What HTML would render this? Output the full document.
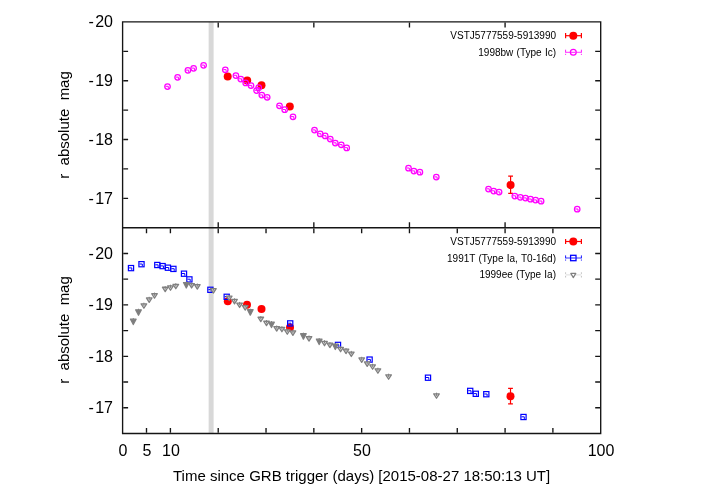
<!DOCTYPE html>
<html><head><meta charset="utf-8"><title>chart</title><style>
html,body{margin:0;padding:0;background:#fff}
#c{position:relative;width:702px;height:496px;overflow:hidden;background:#fff;font-family:"Liberation Sans",sans-serif;color:#000}
.t{position:absolute;white-space:nowrap;line-height:1;will-change:transform}
.yl{font-size:16px;text-align:right;width:60px}
.xl{font-size:16px;text-align:center;width:60px}
.lg{font-size:10px;text-align:right;width:200px;word-spacing:.5px}
.ax{font-size:15px;word-spacing:4.2px}
</style></head><body><div id="c"><svg width="702" height="496" viewBox="0 0 702 496" style="position:absolute;left:0;top:0">
<rect width="702" height="496" fill="#fff"/>
<rect x="208.65" y="21.9" width="4.95" height="411.6" fill="#d8d8d8"/>
<g id="top">
<circle cx="227.7" cy="76.4" r="4" fill="#f00"/>
<circle cx="247.2" cy="80.4" r="4" fill="#f00"/>
<circle cx="261.5" cy="85.3" r="4" fill="#f00"/>
<circle cx="289.8" cy="106.5" r="4" fill="#f00"/>
<path d="M510.6 176.1V193.4M508.2 176.1h4.8M508.2 193.4h4.8" stroke="#f00" stroke-width="1.2" fill="none"/>
<circle cx="510.6" cy="185.1" r="4" fill="#f00"/>
<circle cx="167.5" cy="86.5" r="2.75" fill="none" stroke="#f0f" stroke-width="1.25"/>
<path d="M165.5 86.3H168.3V88.5" stroke="#f0f" stroke-width="1.00" fill="none"/>
<circle cx="177.6" cy="77.3" r="2.75" fill="none" stroke="#f0f" stroke-width="1.25"/>
<path d="M175.6 77.1H178.4V79.3" stroke="#f0f" stroke-width="1.00" fill="none"/>
<circle cx="187.9" cy="70.3" r="2.75" fill="none" stroke="#f0f" stroke-width="1.25"/>
<path d="M185.9 70.1H188.7V72.3" stroke="#f0f" stroke-width="1.00" fill="none"/>
<circle cx="193.6" cy="68.3" r="2.75" fill="none" stroke="#f0f" stroke-width="1.25"/>
<path d="M191.6 68.1H194.4V70.3" stroke="#f0f" stroke-width="1.00" fill="none"/>
<circle cx="203.6" cy="65.3" r="2.75" fill="none" stroke="#f0f" stroke-width="1.25"/>
<path d="M201.6 65.1H204.4V67.3" stroke="#f0f" stroke-width="1.00" fill="none"/>
<circle cx="225.3" cy="69.8" r="2.75" fill="none" stroke="#f0f" stroke-width="1.25"/>
<path d="M223.3 69.6H226.1V71.8" stroke="#f0f" stroke-width="1.00" fill="none"/>
<circle cx="235.9" cy="75.5" r="2.75" fill="none" stroke="#f0f" stroke-width="1.25"/>
<path d="M233.9 75.3H236.7V77.5" stroke="#f0f" stroke-width="1.00" fill="none"/>
<circle cx="240.8" cy="79.0" r="2.75" fill="none" stroke="#f0f" stroke-width="1.25"/>
<path d="M238.8 78.8H241.6V81.0" stroke="#f0f" stroke-width="1.00" fill="none"/>
<circle cx="245.7" cy="82.9" r="2.75" fill="none" stroke="#f0f" stroke-width="1.25"/>
<path d="M243.7 82.7H246.5V84.9" stroke="#f0f" stroke-width="1.00" fill="none"/>
<circle cx="251.0" cy="85.6" r="2.75" fill="none" stroke="#f0f" stroke-width="1.25"/>
<path d="M249.0 85.4H251.8V87.6" stroke="#f0f" stroke-width="1.00" fill="none"/>
<circle cx="256.6" cy="90.5" r="2.75" fill="none" stroke="#f0f" stroke-width="1.25"/>
<path d="M254.6 90.3H257.4V92.5" stroke="#f0f" stroke-width="1.00" fill="none"/>
<circle cx="258.7" cy="87.7" r="2.75" fill="none" stroke="#f0f" stroke-width="1.25"/>
<path d="M256.7 87.5H259.5V89.7" stroke="#f0f" stroke-width="1.00" fill="none"/>
<circle cx="261.8" cy="95.1" r="2.75" fill="none" stroke="#f0f" stroke-width="1.25"/>
<path d="M259.8 94.9H262.6V97.1" stroke="#f0f" stroke-width="1.00" fill="none"/>
<circle cx="267.2" cy="97.3" r="2.75" fill="none" stroke="#f0f" stroke-width="1.25"/>
<path d="M265.2 97.1H268.0V99.3" stroke="#f0f" stroke-width="1.00" fill="none"/>
<circle cx="279.5" cy="105.8" r="2.75" fill="none" stroke="#f0f" stroke-width="1.25"/>
<path d="M277.5 105.6H280.3V107.8" stroke="#f0f" stroke-width="1.00" fill="none"/>
<circle cx="284.7" cy="109.7" r="2.75" fill="none" stroke="#f0f" stroke-width="1.25"/>
<path d="M282.7 109.5H285.5V111.7" stroke="#f0f" stroke-width="1.00" fill="none"/>
<circle cx="293.0" cy="116.8" r="2.75" fill="none" stroke="#f0f" stroke-width="1.25"/>
<path d="M291.0 116.6H293.8V118.8" stroke="#f0f" stroke-width="1.00" fill="none"/>
<circle cx="314.5" cy="130.1" r="2.75" fill="none" stroke="#f0f" stroke-width="1.25"/>
<path d="M312.5 129.9H315.3V132.1" stroke="#f0f" stroke-width="1.00" fill="none"/>
<circle cx="320.2" cy="133.9" r="2.75" fill="none" stroke="#f0f" stroke-width="1.25"/>
<path d="M318.2 133.7H321.0V135.9" stroke="#f0f" stroke-width="1.00" fill="none"/>
<circle cx="325.2" cy="135.9" r="2.75" fill="none" stroke="#f0f" stroke-width="1.25"/>
<path d="M323.2 135.7H326.0V137.9" stroke="#f0f" stroke-width="1.00" fill="none"/>
<circle cx="330.3" cy="139.1" r="2.75" fill="none" stroke="#f0f" stroke-width="1.25"/>
<path d="M328.3 138.9H331.1V141.1" stroke="#f0f" stroke-width="1.00" fill="none"/>
<circle cx="335.3" cy="143.0" r="2.75" fill="none" stroke="#f0f" stroke-width="1.25"/>
<path d="M333.3 142.8H336.1V145.0" stroke="#f0f" stroke-width="1.00" fill="none"/>
<circle cx="341.3" cy="144.8" r="2.75" fill="none" stroke="#f0f" stroke-width="1.25"/>
<path d="M339.3 144.6H342.1V146.8" stroke="#f0f" stroke-width="1.00" fill="none"/>
<circle cx="346.7" cy="147.9" r="2.75" fill="none" stroke="#f0f" stroke-width="1.25"/>
<path d="M344.7 147.7H347.5V149.9" stroke="#f0f" stroke-width="1.00" fill="none"/>
<circle cx="408.5" cy="168.2" r="2.75" fill="none" stroke="#f0f" stroke-width="1.25"/>
<path d="M406.5 168.0H409.3V170.2" stroke="#f0f" stroke-width="1.00" fill="none"/>
<circle cx="413.9" cy="171.1" r="2.75" fill="none" stroke="#f0f" stroke-width="1.25"/>
<path d="M411.9 170.9H414.7V173.1" stroke="#f0f" stroke-width="1.00" fill="none"/>
<circle cx="419.9" cy="172.2" r="2.75" fill="none" stroke="#f0f" stroke-width="1.25"/>
<path d="M417.9 172.0H420.7V174.2" stroke="#f0f" stroke-width="1.00" fill="none"/>
<circle cx="436.3" cy="177.1" r="2.75" fill="none" stroke="#f0f" stroke-width="1.25"/>
<path d="M434.3 176.9H437.1V179.1" stroke="#f0f" stroke-width="1.00" fill="none"/>
<circle cx="488.5" cy="189.0" r="2.75" fill="none" stroke="#f0f" stroke-width="1.25"/>
<path d="M486.5 188.8H489.3V191.0" stroke="#f0f" stroke-width="1.00" fill="none"/>
<circle cx="493.7" cy="191.0" r="2.75" fill="none" stroke="#f0f" stroke-width="1.25"/>
<path d="M491.7 190.8H494.5V193.0" stroke="#f0f" stroke-width="1.00" fill="none"/>
<circle cx="499.1" cy="192.1" r="2.75" fill="none" stroke="#f0f" stroke-width="1.25"/>
<path d="M497.1 191.9H499.9V194.1" stroke="#f0f" stroke-width="1.00" fill="none"/>
<circle cx="514.8" cy="196.0" r="2.75" fill="none" stroke="#f0f" stroke-width="1.25"/>
<path d="M512.8 195.8H515.6V198.0" stroke="#f0f" stroke-width="1.00" fill="none"/>
<circle cx="520.3" cy="197.3" r="2.75" fill="none" stroke="#f0f" stroke-width="1.25"/>
<path d="M518.3 197.1H521.1V199.3" stroke="#f0f" stroke-width="1.00" fill="none"/>
<circle cx="525.5" cy="198.1" r="2.75" fill="none" stroke="#f0f" stroke-width="1.25"/>
<path d="M523.5 197.9H526.3V200.1" stroke="#f0f" stroke-width="1.00" fill="none"/>
<circle cx="530.5" cy="199.2" r="2.75" fill="none" stroke="#f0f" stroke-width="1.25"/>
<path d="M528.5 199.0H531.3V201.2" stroke="#f0f" stroke-width="1.00" fill="none"/>
<circle cx="535.6" cy="200.1" r="2.75" fill="none" stroke="#f0f" stroke-width="1.25"/>
<path d="M533.6 199.9H536.4V202.1" stroke="#f0f" stroke-width="1.00" fill="none"/>
<circle cx="541.1" cy="201.2" r="2.75" fill="none" stroke="#f0f" stroke-width="1.25"/>
<path d="M539.1 201.0H541.9V203.2" stroke="#f0f" stroke-width="1.00" fill="none"/>
<circle cx="577.2" cy="209.2" r="2.75" fill="none" stroke="#f0f" stroke-width="1.25"/>
<path d="M575.2 209.0H578.0V211.2" stroke="#f0f" stroke-width="1.00" fill="none"/>
</g>
<g id="bot">
<circle cx="227.8" cy="301.2" r="4" fill="#f00"/>
<circle cx="247.0" cy="304.7" r="4" fill="#f00"/>
<circle cx="261.5" cy="309.0" r="4" fill="#f00"/>
<circle cx="290.0" cy="327.4" r="4" fill="#f00"/>
<path d="M510.5 388.4V403.9M508.1 388.4h4.8M508.1 403.9h4.8" stroke="#f00" stroke-width="1.2" fill="none"/>
<circle cx="510.5" cy="396.2" r="4" fill="#f00"/>
<rect x="128.40" y="265.50" width="5.2" height="5.2" fill="none" stroke="#00f" stroke-width="1.2"/>
<path d="M129.0 267.9H131.8V270.1" stroke="#00f" stroke-width="1.00" fill="none"/>
<rect x="138.90" y="261.60" width="5.2" height="5.2" fill="none" stroke="#00f" stroke-width="1.2"/>
<path d="M139.5 264.0H142.3V266.2" stroke="#00f" stroke-width="1.00" fill="none"/>
<rect x="154.70" y="262.40" width="5.2" height="5.2" fill="none" stroke="#00f" stroke-width="1.2"/>
<path d="M155.3 264.8H158.1V267.0" stroke="#00f" stroke-width="1.00" fill="none"/>
<rect x="160.00" y="263.50" width="5.2" height="5.2" fill="none" stroke="#00f" stroke-width="1.2"/>
<path d="M160.6 265.9H163.4V268.1" stroke="#00f" stroke-width="1.00" fill="none"/>
<rect x="165.30" y="265.10" width="5.2" height="5.2" fill="none" stroke="#00f" stroke-width="1.2"/>
<path d="M165.9 267.5H168.7V269.7" stroke="#00f" stroke-width="1.00" fill="none"/>
<rect x="170.80" y="266.30" width="5.2" height="5.2" fill="none" stroke="#00f" stroke-width="1.2"/>
<path d="M171.4 268.7H174.2V270.9" stroke="#00f" stroke-width="1.00" fill="none"/>
<rect x="181.40" y="271.10" width="5.2" height="5.2" fill="none" stroke="#00f" stroke-width="1.2"/>
<path d="M182.0 273.5H184.8V275.7" stroke="#00f" stroke-width="1.00" fill="none"/>
<rect x="186.80" y="276.80" width="5.2" height="5.2" fill="none" stroke="#00f" stroke-width="1.2"/>
<path d="M187.4 279.2H190.2V281.4" stroke="#00f" stroke-width="1.00" fill="none"/>
<rect x="207.80" y="287.20" width="5.2" height="5.2" fill="none" stroke="#00f" stroke-width="1.2"/>
<path d="M208.4 289.6H211.2V291.8" stroke="#00f" stroke-width="1.00" fill="none"/>
<rect x="224.10" y="294.20" width="5.2" height="5.2" fill="none" stroke="#00f" stroke-width="1.2"/>
<path d="M224.7 296.6H227.5V298.8" stroke="#00f" stroke-width="1.00" fill="none"/>
<rect x="287.60" y="320.80" width="5.2" height="5.2" fill="none" stroke="#00f" stroke-width="1.2"/>
<path d="M288.2 323.2H291.0V325.4" stroke="#00f" stroke-width="1.00" fill="none"/>
<rect x="335.40" y="342.30" width="5.2" height="5.2" fill="none" stroke="#00f" stroke-width="1.2"/>
<path d="M336.0 344.7H338.8V346.9" stroke="#00f" stroke-width="1.00" fill="none"/>
<rect x="367.00" y="357.00" width="5.2" height="5.2" fill="none" stroke="#00f" stroke-width="1.2"/>
<path d="M367.6 359.4H370.4V361.6" stroke="#00f" stroke-width="1.00" fill="none"/>
<rect x="425.40" y="375.10" width="5.2" height="5.2" fill="none" stroke="#00f" stroke-width="1.2"/>
<path d="M426.0 377.5H428.8V379.7" stroke="#00f" stroke-width="1.00" fill="none"/>
<rect x="467.60" y="388.30" width="5.2" height="5.2" fill="none" stroke="#00f" stroke-width="1.2"/>
<path d="M468.2 390.7H471.0V392.9" stroke="#00f" stroke-width="1.00" fill="none"/>
<rect x="473.20" y="391.20" width="5.2" height="5.2" fill="none" stroke="#00f" stroke-width="1.2"/>
<path d="M473.8 393.6H476.6V395.8" stroke="#00f" stroke-width="1.00" fill="none"/>
<rect x="483.70" y="391.60" width="5.2" height="5.2" fill="none" stroke="#00f" stroke-width="1.2"/>
<path d="M484.3 394.0H487.1V396.2" stroke="#00f" stroke-width="1.00" fill="none"/>
<rect x="520.90" y="414.40" width="5.2" height="5.2" fill="none" stroke="#00f" stroke-width="1.2"/>
<path d="M521.5 416.8H524.3V419.0" stroke="#00f" stroke-width="1.00" fill="none"/>
<path d="M130.50 319.15h5.6l-2.8 5.4z" fill="#7c7c7c" stroke="#808080" stroke-width="1.3" stroke-linejoin="round"/>
<path d="M133.30 318.05v3" stroke="#808080" stroke-width="1" fill="none"/>
<path d="M135.70 309.85h5.6l-2.8 5.4z" fill="#7c7c7c" stroke="#808080" stroke-width="1.3" stroke-linejoin="round"/>
<path d="M138.50 308.75v3" stroke="#808080" stroke-width="1" fill="none"/>
<path d="M141.10 303.85h5.6l-2.8 4.4z" fill="#dadada" stroke="#808080" stroke-width="1.3" stroke-linejoin="round"/>
<path d="M143.90 302.70v3.2" stroke="#808080" stroke-width="1" fill="none"/>
<path d="M146.40 297.95h5.6l-2.8 4.4z" fill="#dadada" stroke="#808080" stroke-width="1.3" stroke-linejoin="round"/>
<path d="M149.20 296.80v3.2" stroke="#808080" stroke-width="1" fill="none"/>
<path d="M151.70 293.75h5.6l-2.8 4.4z" fill="#dadada" stroke="#808080" stroke-width="1.3" stroke-linejoin="round"/>
<path d="M154.50 292.60v3.2" stroke="#808080" stroke-width="1" fill="none"/>
<path d="M162.40 287.25h5.6l-2.8 4.4z" fill="#dadada" stroke="#808080" stroke-width="1.3" stroke-linejoin="round"/>
<path d="M165.20 286.10v3.2" stroke="#808080" stroke-width="1" fill="none"/>
<path d="M167.70 285.85h5.6l-2.8 4.4z" fill="#dadada" stroke="#808080" stroke-width="1.3" stroke-linejoin="round"/>
<path d="M170.50 284.70v3.2" stroke="#808080" stroke-width="1" fill="none"/>
<path d="M173.00 284.35h5.6l-2.8 4.4z" fill="#dadada" stroke="#808080" stroke-width="1.3" stroke-linejoin="round"/>
<path d="M175.80 283.20v3.2" stroke="#808080" stroke-width="1" fill="none"/>
<path d="M183.50 282.55h5.6l-2.8 5.4z" fill="#7c7c7c" stroke="#808080" stroke-width="1.3" stroke-linejoin="round"/>
<path d="M186.30 281.45v3" stroke="#808080" stroke-width="1" fill="none"/>
<path d="M188.80 283.55h5.6l-2.8 4.4z" fill="#dadada" stroke="#808080" stroke-width="1.3" stroke-linejoin="round"/>
<path d="M191.60 282.40v3.2" stroke="#808080" stroke-width="1" fill="none"/>
<path d="M194.50 284.65h5.6l-2.8 4.4z" fill="#dadada" stroke="#808080" stroke-width="1.3" stroke-linejoin="round"/>
<path d="M197.30 283.50v3.2" stroke="#808080" stroke-width="1" fill="none"/>
<path d="M210.60 288.65h5.6l-2.8 4.4z" fill="#dadada" stroke="#808080" stroke-width="1.3" stroke-linejoin="round"/>
<path d="M213.40 287.50v3.2" stroke="#808080" stroke-width="1" fill="none"/>
<path d="M226.40 296.05h5.6l-2.8 4.4z" fill="#dadada" stroke="#808080" stroke-width="1.3" stroke-linejoin="round"/>
<path d="M229.20 294.90v3.2" stroke="#808080" stroke-width="1" fill="none"/>
<path d="M231.70 299.45h5.6l-2.8 4.4z" fill="#dadada" stroke="#808080" stroke-width="1.3" stroke-linejoin="round"/>
<path d="M234.50 298.30v3.2" stroke="#808080" stroke-width="1" fill="none"/>
<path d="M236.80 303.05h5.6l-2.8 4.4z" fill="#dadada" stroke="#808080" stroke-width="1.3" stroke-linejoin="round"/>
<path d="M239.60 301.90v3.2" stroke="#808080" stroke-width="1" fill="none"/>
<path d="M242.40 305.65h5.6l-2.8 4.4z" fill="#dadada" stroke="#808080" stroke-width="1.3" stroke-linejoin="round"/>
<path d="M245.20 304.50v3.2" stroke="#808080" stroke-width="1" fill="none"/>
<path d="M247.50 309.75h5.6l-2.8 5.4z" fill="#7c7c7c" stroke="#808080" stroke-width="1.3" stroke-linejoin="round"/>
<path d="M250.30 308.65v3" stroke="#808080" stroke-width="1" fill="none"/>
<path d="M258.00 317.25h5.6l-2.8 4.4z" fill="#dadada" stroke="#808080" stroke-width="1.3" stroke-linejoin="round"/>
<path d="M260.80 316.10v3.2" stroke="#808080" stroke-width="1" fill="none"/>
<path d="M263.70 321.25h5.6l-2.8 4.4z" fill="#dadada" stroke="#808080" stroke-width="1.3" stroke-linejoin="round"/>
<path d="M266.50 320.10v3.2" stroke="#808080" stroke-width="1" fill="none"/>
<path d="M268.70 322.15h5.6l-2.8 5.4z" fill="#7c7c7c" stroke="#808080" stroke-width="1.3" stroke-linejoin="round"/>
<path d="M271.50 321.05v3" stroke="#808080" stroke-width="1" fill="none"/>
<path d="M273.90 326.65h5.6l-2.8 4.4z" fill="#dadada" stroke="#808080" stroke-width="1.3" stroke-linejoin="round"/>
<path d="M276.70 325.50v3.2" stroke="#808080" stroke-width="1" fill="none"/>
<path d="M279.10 327.35h5.6l-2.8 4.4z" fill="#dadada" stroke="#808080" stroke-width="1.3" stroke-linejoin="round"/>
<path d="M281.90 326.20v3.2" stroke="#808080" stroke-width="1" fill="none"/>
<path d="M284.50 329.85h5.6l-2.8 4.4z" fill="#dadada" stroke="#808080" stroke-width="1.3" stroke-linejoin="round"/>
<path d="M287.30 328.70v3.2" stroke="#808080" stroke-width="1" fill="none"/>
<path d="M290.10 330.95h5.6l-2.8 4.4z" fill="#dadada" stroke="#808080" stroke-width="1.3" stroke-linejoin="round"/>
<path d="M292.90 329.80v3.2" stroke="#808080" stroke-width="1" fill="none"/>
<path d="M300.60 333.75h5.6l-2.8 5.4z" fill="#7c7c7c" stroke="#808080" stroke-width="1.3" stroke-linejoin="round"/>
<path d="M303.40 332.65v3" stroke="#808080" stroke-width="1" fill="none"/>
<path d="M306.20 336.65h5.6l-2.8 4.4z" fill="#dadada" stroke="#808080" stroke-width="1.3" stroke-linejoin="round"/>
<path d="M309.00 335.50v3.2" stroke="#808080" stroke-width="1" fill="none"/>
<path d="M316.40 339.15h5.6l-2.8 5.4z" fill="#7c7c7c" stroke="#808080" stroke-width="1.3" stroke-linejoin="round"/>
<path d="M319.20 338.05v3" stroke="#808080" stroke-width="1" fill="none"/>
<path d="M321.70 341.35h5.6l-2.8 4.4z" fill="#dadada" stroke="#808080" stroke-width="1.3" stroke-linejoin="round"/>
<path d="M324.50 340.20v3.2" stroke="#808080" stroke-width="1" fill="none"/>
<path d="M327.10 343.15h5.6l-2.8 4.4z" fill="#dadada" stroke="#808080" stroke-width="1.3" stroke-linejoin="round"/>
<path d="M329.90 342.00v3.2" stroke="#808080" stroke-width="1" fill="none"/>
<path d="M332.50 344.05h5.6l-2.8 5.4z" fill="#7c7c7c" stroke="#808080" stroke-width="1.3" stroke-linejoin="round"/>
<path d="M335.30 342.95v3" stroke="#808080" stroke-width="1" fill="none"/>
<path d="M337.80 347.35h5.6l-2.8 4.4z" fill="#dadada" stroke="#808080" stroke-width="1.3" stroke-linejoin="round"/>
<path d="M340.60 346.20v3.2" stroke="#808080" stroke-width="1" fill="none"/>
<path d="M343.20 349.15h5.6l-2.8 4.4z" fill="#dadada" stroke="#808080" stroke-width="1.3" stroke-linejoin="round"/>
<path d="M346.00 348.00v3.2" stroke="#808080" stroke-width="1" fill="none"/>
<path d="M348.50 352.05h5.6l-2.8 4.4z" fill="#dadada" stroke="#808080" stroke-width="1.3" stroke-linejoin="round"/>
<path d="M351.30 350.90v3.2" stroke="#808080" stroke-width="1" fill="none"/>
<path d="M358.90 357.95h5.6l-2.8 4.4z" fill="#dadada" stroke="#808080" stroke-width="1.3" stroke-linejoin="round"/>
<path d="M361.70 356.80v3.2" stroke="#808080" stroke-width="1" fill="none"/>
<path d="M364.40 361.95h5.6l-2.8 4.4z" fill="#dadada" stroke="#808080" stroke-width="1.3" stroke-linejoin="round"/>
<path d="M367.20 360.80v3.2" stroke="#808080" stroke-width="1" fill="none"/>
<path d="M369.80 364.85h5.6l-2.8 4.4z" fill="#dadada" stroke="#808080" stroke-width="1.3" stroke-linejoin="round"/>
<path d="M372.60 363.70v3.2" stroke="#808080" stroke-width="1" fill="none"/>
<path d="M375.10 368.85h5.6l-2.8 4.4z" fill="#dadada" stroke="#808080" stroke-width="1.3" stroke-linejoin="round"/>
<path d="M377.90 367.70v3.2" stroke="#808080" stroke-width="1" fill="none"/>
<path d="M385.80 374.85h5.6l-2.8 4.4z" fill="#dadada" stroke="#808080" stroke-width="1.3" stroke-linejoin="round"/>
<path d="M388.60 373.70v3.2" stroke="#808080" stroke-width="1" fill="none"/>
<path d="M433.70 393.85h5.6l-2.8 4.4z" fill="#dadada" stroke="#808080" stroke-width="1.3" stroke-linejoin="round"/>
<path d="M436.50 392.70v3.2" stroke="#808080" stroke-width="1" fill="none"/>
</g>
<path d="M122.60 21.90H600.70V433.45H122.60ZM122.60 227.75H600.70" fill="none" stroke="#151515" stroke-width="1.35" stroke-linejoin="miter"/>
<path d="M123.27 51.31H128.10M600.03 51.31H595.20M123.27 80.71H128.10M600.03 80.71H595.20M123.27 110.12H128.10M600.03 110.12H595.20M123.27 139.53H128.10M600.03 139.53H595.20M123.27 168.94H128.10M600.03 168.94H595.20M123.27 198.34H128.10M600.03 198.34H595.20M123.27 253.46H128.10M600.03 253.46H595.20M123.27 279.18H128.10M600.03 279.18H595.20M123.27 304.89H128.10M600.03 304.89H595.20M123.27 330.60H128.10M600.03 330.60H595.20M123.27 356.31H128.10M600.03 356.31H595.20M123.27 382.02H128.10M600.03 382.02H595.20M123.27 407.74H128.10M600.03 407.74H595.20M218.22 22.57V27.40M218.22 227.07V222.25M313.84 22.57V27.40M313.84 227.07V222.25M409.46 22.57V27.40M409.46 227.07V222.25M505.08 22.57V27.40M505.08 227.07V222.25M146.50 228.43V233.25M146.50 432.77V427.95M170.41 228.43V233.25M170.41 432.77V427.95M218.22 228.43V233.25M218.22 432.77V427.95M266.03 228.43V233.25M266.03 432.77V427.95M313.84 228.43V233.25M313.84 432.77V427.95M361.65 228.43V233.25M361.65 432.77V427.95M409.46 228.43V233.25M409.46 432.77V427.95M457.27 228.43V233.25M457.27 432.77V427.95M505.08 228.43V233.25M505.08 432.77V427.95M552.89 228.43V233.25M552.89 432.77V427.95" fill="none" stroke="#151515" stroke-width="1.35"/>
<path d="M565.6 35.7H581.4" stroke="#f00" stroke-width="1.20" fill="none" opacity="1.00"/><path d="M565.6 33.1v5.2M581.4 33.1v5.2" stroke="#f00" stroke-width="1.20" fill="none" opacity="1.00"/>
<circle cx="573.3" cy="35.7" r="4" fill="#f00"/>
<path d="M565.6 52.3H581.4" stroke="#f0f" stroke-width="0.80" fill="none" opacity="1.00"/><path d="M565.6 49.7v5.2M581.4 49.7v5.2" stroke="#f0f" stroke-width="0.90" fill="none" opacity="1.00" stroke-dasharray="2.9 1.2 1.1 9"/>
<circle cx="573.3" cy="52.3" r="2.9" fill="#fff" stroke="#f0f" stroke-width="1.3"/>
<path d="M571.1 52.3h4.4" stroke="#f0f" stroke-width="0.9"/>
<path d="M565.6 241.5H581.4" stroke="#f00" stroke-width="1.20" fill="none" opacity="1.00"/><path d="M565.6 238.9v5.2M581.4 238.9v5.2" stroke="#f00" stroke-width="1.20" fill="none" opacity="1.00"/>
<circle cx="573.3" cy="241.5" r="4" fill="#f00"/>
<path d="M565.6 258.0H581.4" stroke="#00f" stroke-width="0.80" fill="none" opacity="1.00"/><path d="M565.6 255.4v5.2M581.4 255.4v5.2" stroke="#00f" stroke-width="0.90" fill="none" opacity="1.00" stroke-dasharray="2.9 1.2 1.1 9"/>
<rect x="570.6" y="255.3" width="5.4" height="5.4" fill="#fff" stroke="#00f" stroke-width="1.3"/>
<path d="M571.1 258.0h4.4" stroke="#00f" stroke-width="0.9"/>
<path d="M565.6 274.9H581.4" stroke="#808080" stroke-width="0.50" fill="none" opacity="0.55"/><path d="M565.6 272.3v5.2M581.4 272.3v5.2" stroke="#808080" stroke-width="0.90" fill="none" opacity="0.55" stroke-dasharray="1.6 2 1.6 9"/>
<path d="M570.80 273.40h5.0l-2.5 4.2z" fill="#fff" stroke="#808080" stroke-width="1.2" stroke-linejoin="round"/>
</svg>
<div class="t yl" style="left:52.6px;top:14.4px"><span style="margin-right:1.3px">-</span>20</div>
<div class="t yl" style="left:52.6px;top:73.2px"><span style="margin-right:1.3px">-</span>19</div>
<div class="t yl" style="left:52.6px;top:132.0px"><span style="margin-right:1.3px">-</span>18</div>
<div class="t yl" style="left:52.6px;top:190.8px"><span style="margin-right:1.3px">-</span>17</div>
<div class="t yl" style="left:52.6px;top:246.0px"><span style="margin-right:1.3px">-</span>20</div>
<div class="t yl" style="left:52.6px;top:297.4px"><span style="margin-right:1.3px">-</span>19</div>
<div class="t yl" style="left:52.6px;top:348.8px"><span style="margin-right:1.3px">-</span>18</div>
<div class="t yl" style="left:52.6px;top:400.2px"><span style="margin-right:1.3px">-</span>17</div>
<div class="t xl" style="left:92.8px;top:443.0px">0</div>
<div class="t xl" style="left:116.7px;top:443.0px">5</div>
<div class="t xl" style="left:140.6px;top:443.0px">10</div>
<div class="t xl" style="left:331.8px;top:443.0px">50</div>
<div class="t xl" style="left:570.9px;top:443.0px">100</div>
<div class="t lg" style="left:355.6px;top:31.2px">VSTJ5777559-5913990</div>
<div class="t lg" style="left:355.6px;top:47.8px">1998bw (Type Ic)</div>
<div class="t lg" style="left:355.6px;top:237.0px">VSTJ5777559-5913990</div>
<div class="t lg" style="left:355.6px;top:253.5px">1991T (Type Ia, T0-16d)</div>
<div class="t lg" style="left:355.6px;top:270.4px">1999ee (Type Ia)</div>
<div class="t" style="font-size:15px;left:173px;top:467.9px;width:376px;text-align:center">Time since GRB trigger (days) [2015-08-27 18:50:13 UT]</div>
<div class="t ax" style="left:-5.7px;top:117.0px;width:140px;height:16px;text-align:center;transform:rotate(-90deg);transform-origin:50% 50%">r absolute mag</div>
<div class="t ax" style="left:-5.7px;top:321.8px;width:140px;height:16px;text-align:center;transform:rotate(-90deg);transform-origin:50% 50%">r absolute mag</div></div></body></html>
